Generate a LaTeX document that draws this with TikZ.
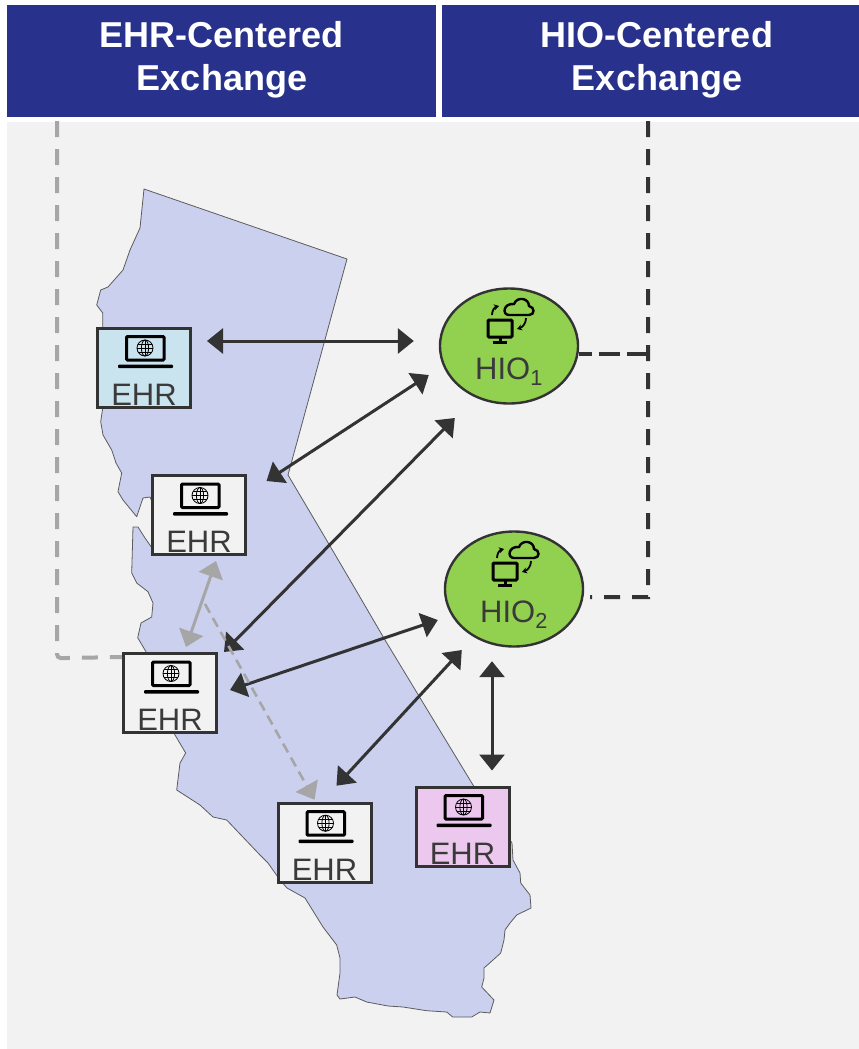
\documentclass[tikz,border=0pt]{standalone}
\usepackage{fontspec}
\setmainfont{Liberation Sans}
\usetikzlibrary{arrows.meta,shapes.geometric}
\definecolor{panel}{RGB}{242,242,242}
\definecolor{banner}{RGB}{40,50,140}
\definecolor{state}{RGB}{203,208,239}
\definecolor{ink}{RGB}{51,51,51}
\definecolor{label}{RGB}{58,58,58}
\definecolor{mute}{RGB}{166,166,166}
\definecolor{hio}{RGB}{146,208,80}
\definecolor{blueehr}{RGB}{201,228,238}
\definecolor{pinkehr}{RGB}{237,200,238}
\tikzset{
  banner/.style={fill=banner,text=white,inner sep=0pt,minimum width=#1,minimum height=112pt,align=center,font=\fontsize{36}{43}\selectfont\bfseries},
  ehr/.style={draw=ink,line width=3pt,minimum width=93pt,minimum height=79pt,inner sep=0pt},
  ehrtext/.style={anchor=base,text=label,inner sep=0pt,font=\fontsize{31}{31}\selectfont},
  hionode/.style={draw=ink,line width=2.4pt,fill=hio,ellipse,minimum width=138pt,minimum height=115pt,inner sep=0pt},
  both/.style={{Triangle[length=16pt,width=25pt]}-{Triangle[length=16pt,width=25pt]},line width=3pt},
  wire/.style={line width=4pt,dash pattern=on 16pt off 12pt,dash phase=24pt,rounded corners=4pt}
}
\newcommand{\drawlaptop}[2]{
  \begin{scope}[shift={(#1,#2)}]
    \draw[black,line width=3pt,rounded corners=1pt] (-17.5,-31) rectangle (20,-7.5);
    \fill[black,rounded corners=1pt] (-26,-3) rectangle (29,0.5);
    \draw[black,line width=.8pt] (1,-19.5) circle (8);
    \draw[black,line width=.8pt] (1,-19.5) ellipse (3.6 and 8);
    \draw[black,line width=.8pt] (-7,-19.5)--(9,-19.5) (-6,-23.5)--(8,-23.5) (-6,-15.5)--(8,-15.5) (1,-27.5)--(1,-11.5);
  \end{scope}
}
\newcommand{\drawcloudpc}[2]{
  \begin{scope}[shift={(#1,#2)}]
    \draw[black,line width=3pt,rounded corners=1pt] (-21,-26) rectangle (3,-9);
    \draw[black,line width=3pt] (-9,-8)--(-9,-4) (-16,-3.5)--(-2,-3.5);
    \draw[black,line width=2.4pt] (0,-31)--(20,-31) .. controls (26,-31) and (26,-39) .. (20,-40) .. controls (20,-48) and (8,-50) .. (5,-42) .. controls (-6,-43) and (-7,-31) .. (0,-31)--cycle;
    \draw[black,line width=1.8pt,-{Stealth[length=5pt,width=6pt]}] (-17,-31) .. controls (-17,-36) and (-14,-39) .. (-10,-40);
    \draw[black,line width=1.8pt,-{Stealth[length=5pt,width=6pt]}] (17,-28) .. controls (17,-23) and (14,-19) .. (8,-17);
  \end{scope}
}
\newcommand{\ehrbox}[4]{
  \node[ehr,fill=#4] (#1) at (#2,#3) {};
  \node[ehrtext] (#1t) at (#2,#3+37.5) {EHR};
  \drawlaptop{#2}{#3}
}
\newcommand{\hiobox}[4]{
  \node[hionode] (#1) at (#2,#3) {};
  \node[ehrtext] (#1t) at (#2,#3+33) {HIO\textsubscript{#4}};
  \drawcloudpc{#2}{#3}
}
\begin{document}
\begin{tikzpicture}[x=1pt,y=-1pt]
\useasboundingbox (0,0) rectangle (859,1049);
\fill[panel] (7,122) rectangle (859,1049);
\node[banner=429pt] (hdrehr) at (221.5,61) {\hspace{1pt}EHR-Centered\\\hspace{1pt}\rule[-9.6pt]{0pt}{1pt}Exchange};
\node[banner=417pt] (hdrhio) at (650.5,61) {\hspace{13pt}HIO-Centered\\\hspace{13pt}\rule[-9.6pt]{0pt}{1pt}Exchange};
\draw[draw=ink!80,line width=.8pt,fill=state,line join=round] (144,189)--(347,259)--(288,475)--(320,529)--(350,580)--(385,640)--(425,706)--(473,785)--(512,843)--(513,860)--(520,873)--(520.7,883)--(530,895)--(531,908)--(516.7,915)--(510,923)--(505,930)--(504,940)--(500.7,953)--(493,960)--(484,968)--(484,978)--(481.7,987)--(494,1000)--(490,1013)--(480,1012)--(471.7,1017)--(452.7,1017)--(446.7,1012)--(426.7,1010.7)--(403,1007)--(388,1006)--(366.7,1002)--(355,997)--(340,999)--(337,995)--(340,973)--(340,958)--(336.7,945)--(323,927)--(305,898)--(287,888)--(280,880)--(268,863)--(260,855)--(226.7,820)--(213,817)--(200,805)--(176.7,790)--(180,763)--(185.7,753)--(175,735)--(160,700)--(146,651.7)--(137.7,637.7)--(141,623)--(151.7,617)--(153,603)--(148,591.7)--(136.7,583)--(131.7,573)--(133,527)--(138,527)--(145,538)--(152,548)--(160,520)--(150,497)--(143,498)--(136.7,516.7)--(123,500)--(118,491.7)--(121.7,473)--(116,463)--(111.7,450)--(103,435)--(100.7,421.7)--(102.7,408)--(102.7,313)--(96.7,305)--(100.7,290)--(108,287)--(123,270)--(130,250)--(140,228)--cycle;
\ehrbox{ehrA}{144}{367.5}{blueehr}\ehrbox{ehrB}{199}{515}{panel}\ehrbox{ehrC}{170}{693}{panel}\ehrbox{ehrD}{324.5}{842.7}{panel}\ehrbox{ehrE}{462.5}{826.5}{pinkehr}
\hiobox{hioA}{509}{346}{1}\hiobox{hioB}{514}{589}{2}
\draw[wire,mute] ([xshift=-164.5pt]hdrehr.south) -- ++(0,541) -- ([yshift=-5pt]ehrC.north west);
\draw[wire,ink,rounded corners=0pt] ([xshift=-2.5pt]hdrhio.south) -- ++(0,480) -- ([shift={(6,8)}]hioB.east);
\draw[wire,ink,rounded corners=0pt,dash pattern=on 21pt off 7pt,dash phase=8pt] ([yshift=-8pt]hioA.east) -- ++(69,0) coordinate (hioAj);
\draw[both,ink] ([shift={(15,-26.5)}]ehrA.east) -- ([shift={(-25,-5)}]hioA.west);
\draw[both,ink] ([shift={(19.5,7)}]ehrB.north east) -- ([shift={(-10,29)}]hioA.west);
\draw[both,ink] ([shift={(6,0)}]ehrC.north east) -- ([shift={(16,72)}]hioA.west);
\draw[both,ink] ([shift={(12,-3)}]ehrC.east) -- ([shift={(-6,31)}]hioB.west);
\draw[both,ink] ([shift={(-36,-16)}]ehrD.north east) -- ([shift={(18,61)}]hioB.west);
\draw[both,ink] ([shift={(29.5,-15)}]ehrE.north) -- ([shift={(-22,13.5)}]hioB.south);
\draw[both,mute] ([shift={(17,5)}]ehrB.south) -- ([shift={(16,-5)}]ehrC.north);
\draw[mute,line width=2.6pt,dash pattern=on 10pt off 6pt,-{Triangle[length=16pt,width=25pt]}] ([shift={(6,48)}]ehrB.south) -- ([shift={(-10,-2)}]ehrD.north);
\end{tikzpicture}
\end{document}
